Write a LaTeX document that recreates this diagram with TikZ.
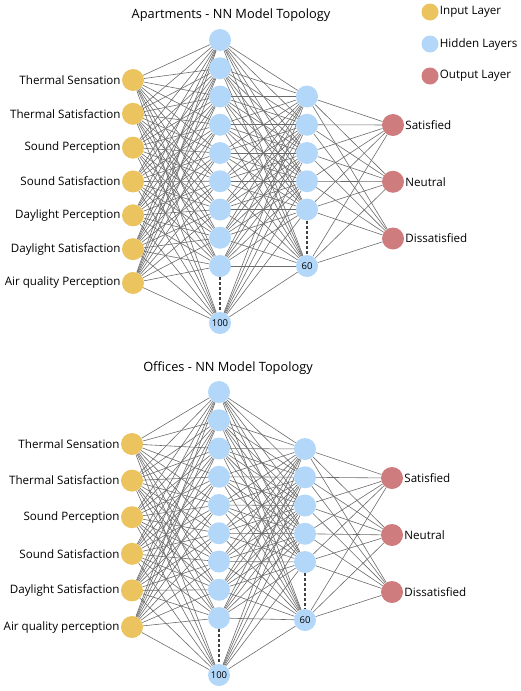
\documentclass[tikz,border=0pt]{standalone}
\usepackage{fontspec}
\setmainfont{Open Sans}
\usetikzlibrary{backgrounds}
\definecolor{inyellow}{HTML}{EBC35F}
\definecolor{hidblue}{HTML}{B3D7F9}
\definecolor{outred}{HTML}{CE7C7D}

\begin{document}
\begin{tikzpicture}[x=1pt,y=-1pt,
    neuron/.style={circle,inner sep=0pt,minimum size=22pt,font=\fontsize{9.5}{10}\selectfont},
    inp/.style={neuron,fill=inyellow},
    hid/.style={neuron,fill=hidblue},
    outp/.style={neuron,fill=outred},
    keydot/.style={minimum size=17pt},
    lbl/.style={font=\fontsize{11.6}{13}\selectfont,inner sep=1pt},
    ttl/.style={font=\fontsize{12.8}{14}\selectfont},
    wire/.style={draw=black!58,line width=0.6pt},
    gap/.style={dash pattern=on 3pt off 2pt,line width=1.3pt,draw=black!75}]
    \useasboundingbox (0,0) rectangle (520,691);

    \node[inp,keydot,label={[lbl]right:Input Layer}] (key-in) at (430,12) {};
    \node[hid,keydot,label={[lbl]right:Hidden Layers}] (key-hid) at (430,44) {};
    \node[outp,keydot,label={[lbl]right:Output Layer}] (key-out) at (430,76) {};

    % apartments
    \node[ttl] (a-title) at (231,15) {Apartments - NN Model Topology};
    \foreach \lab [count=\i] in {Thermal Sensation,Thermal Satisfaction,Sound Perception,Sound Satisfaction,Daylight Perception,Daylight Satisfaction,Air quality Perception}
        \node[inp,label={[lbl]left:\lab}] (a-in\i) at (133,{80+33.83*(\i-1)}) {};
    \foreach \j in {1,...,9}
        \node[hid] (a-h\j) at (220,{40+28.25*(\j-1)}) {};
    \node[hid] (a-h10) at (220,323) {100};
    \foreach \k in {1,...,5}
        \node[hid] (a-g\k) at (307,{96.5+28.25*(\k-1)}) {};
    \node[hid] (a-g6) at (307,266) {60};
    \foreach \lab [count=\m] in {Satisfied,Neutral,Dissatisfied}
        \node[outp,label={[lbl]right:\lab}] (a-o\m) at (393,{125+56.75*(\m-1)}) {};
    \begin{scope}[on background layer]
        \foreach \i in {1,...,7} \foreach \j in {1,...,10} \draw[wire] (a-in\i) -- (a-h\j);
        \foreach \j in {1,...,10} \foreach \k in {1,...,6} \draw[wire] (a-h\j) -- (a-g\k);
        \foreach \k in {1,...,6} \foreach \m in {1,2,3} \draw[wire] (a-g\k) -- (a-o\m);
    \end{scope}
    \draw[gap] (a-h9) -- (a-h10);
    \draw[gap] (a-g5) -- (a-g6);

    % offices
    \node[ttl] (o-title) at (228,368) {Offices - NN Model Topology};
    \foreach \lab [count=\i] in {Thermal Sensation,Thermal Satisfaction,Sound Perception,Sound Satisfaction,Daylight Satisfaction,Air quality perception}
        \node[inp,label={[lbl]left:\lab}] (o-in\i) at (132,{444+36.6*(\i-1)}) {};
    \foreach \j in {1,...,9}
        \node[hid] (o-h\j) at (219,{392+28.25*(\j-1)}) {};
    \node[hid] (o-h10) at (219,675) {100};
    \foreach \k in {1,...,5}
        \node[hid] (o-g\k) at (305,{449+28.25*(\k-1)}) {};
    \node[hid] (o-g6) at (305,620) {60};
    \foreach \lab [count=\m] in {Satisfied,Neutral,Dissatisfied}
        \node[outp,label={[lbl]right:\lab}] (o-o\m) at (392,{478+57*(\m-1)}) {};
    \begin{scope}[on background layer]
        \foreach \i in {1,...,6} \foreach \j in {1,...,10} \draw[wire] (o-in\i) -- (o-h\j);
        \foreach \j in {1,...,10} \foreach \k in {1,...,6} \draw[wire] (o-h\j) -- (o-g\k);
        \foreach \k in {1,...,6} \foreach \m in {1,2,3} \draw[wire] (o-g\k) -- (o-o\m);
    \end{scope}
    \draw[gap] (o-h9) -- (o-h10);
    \draw[gap] (o-g5) -- (o-g6);
\end{tikzpicture}
\end{document}
